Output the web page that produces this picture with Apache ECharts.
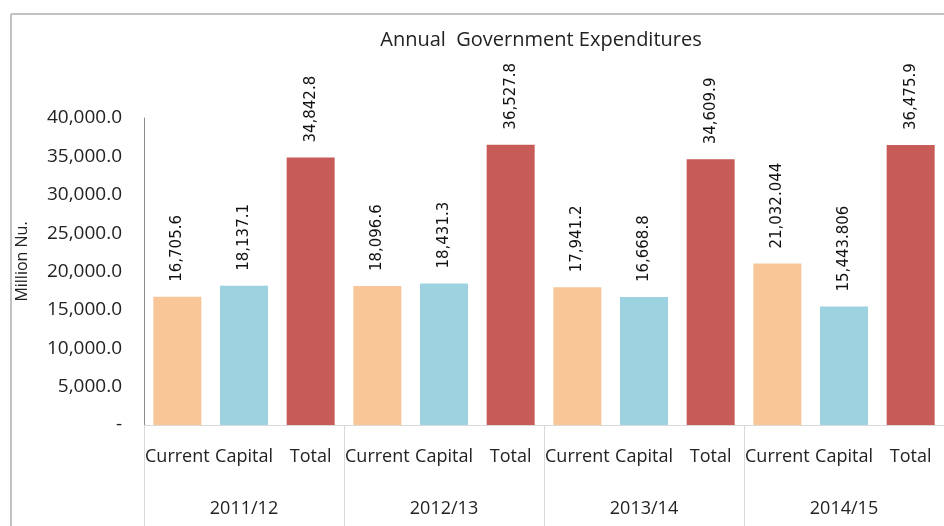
<!DOCTYPE html>
<html>
<head>
<meta charset="utf-8">
<script src="https://cdn.jsdelivr.net/npm/echarts@6/dist/echarts.min.js"></script>
<style>
  html, body { margin: 0; padding: 0; background: #fff; }
  #chart { width: 944px; height: 526px; }
</style>
</head>
<body>
<div id="chart"></div>
<script>
const years = ['2011/12', '2012/13', '2013/14', '2014/15']
const types = ['Current', 'Capital', 'Total']
const values = [
  16705.6, 18137.1, 34842.8,
  18096.6, 18431.3, 36527.8,
  17941.2, 16668.8, 34609.9,
  21032.044, 15443.806, 36475.9
]
const valueLabels = [
  '16,705.6', '18,137.1', '34,842.8',
  '18,096.6', '18,431.3', '36,527.8',
  '17,941.2', '16,668.8', '34,609.9',
  '21,032.044', '15,443.806', '36,475.9'
]
const typeColors = ['#f9c797', '#9dd3e1', '#c65b57']

const categories = years.flatMap(() => types)

const chart = echarts.init(document.getElementById('chart'), undefined, { renderer: 'canvas' })

const fmtTick = (v) => {
  if (v === 0) return '-'
  return v.toLocaleString('en-US', { minimumFractionDigits: 1, maximumFractionDigits: 1 })
}

const option = {
  animation: false,
  title: {
    text: 'Annual  Government Expenditures',
    left: 536,
    textAlign: 'center',
    top: 25,
    textStyle: { fontFamily: 'Open Sans', fontSize: 20, fontWeight: 'normal', color: '#222' }
  },
  graphic: [
    { type: 'line', shape: { x1: 11, y1: 14, x2: 944, y2: 14 }, style: { stroke: '#c2c2c2', lineWidth: 2 } },
    { type: 'line', shape: { x1: 11, y1: 14, x2: 11, y2: 526 }, style: { stroke: '#c2c2c2', lineWidth: 2 } }
  ],
  grid: { left: 144, right: -4, top: 118, bottom: 101 },
  xAxis: [
    {
      type: 'category',
      data: categories,
      position: 'bottom',
      axisLine: { show: true, lineStyle: { color: '#d9d9d9' } },
      axisTick: { show: false },
      axisLabel: { interval: 0, margin: 23, fontFamily: 'Open Sans', fontSize: 18, color: '#222' }
    },
    {
      type: 'category',
      data: years,
      position: 'bottom',
      axisLine: { show: false },
      axisTick: { show: true, length: 101, lineStyle: { color: '#d9d9d9' } },
      axisLabel: { interval: 0, margin: 75, fontFamily: 'Open Sans', fontSize: 18, color: '#222' }
    }
  ],
  yAxis: {
    type: 'value',
    min: 0,
    max: 40000,
    interval: 5000,
    name: 'Million Nu.',
    nameLocation: 'middle',
    nameGap: 114,
    nameTextStyle: { fontFamily: 'Open Sans', fontSize: 16, color: '#222', padding: [0, 0, 0, 20] },
    axisLine: { show: true, lineStyle: { color: '#8c8c8c' } },
    axisTick: { show: false },
    splitLine: { show: false },
    axisLabel: { margin: 22, formatter: fmtTick, fontFamily: 'Open Sans', fontSize: 19, color: '#222' }
  },
  series: [{
    type: 'bar',
    xAxisIndex: 0,
    data: values.map((v, i) => ({ value: v, itemStyle: { color: typeColors[i % 3] } })),
    barWidth: 48,
    label: {
      show: true,
      position: 'top',
      distance: 15,
      rotate: 90,
      align: 'left',
      verticalAlign: 'middle',
      fontFamily: 'DejaVu Sans',
      fontSize: 15,
      color: '#111',
      formatter: (p) => valueLabels[p.dataIndex]
    }
  }]
}

chart.setOption(option)
</script>
</body>
</html>
